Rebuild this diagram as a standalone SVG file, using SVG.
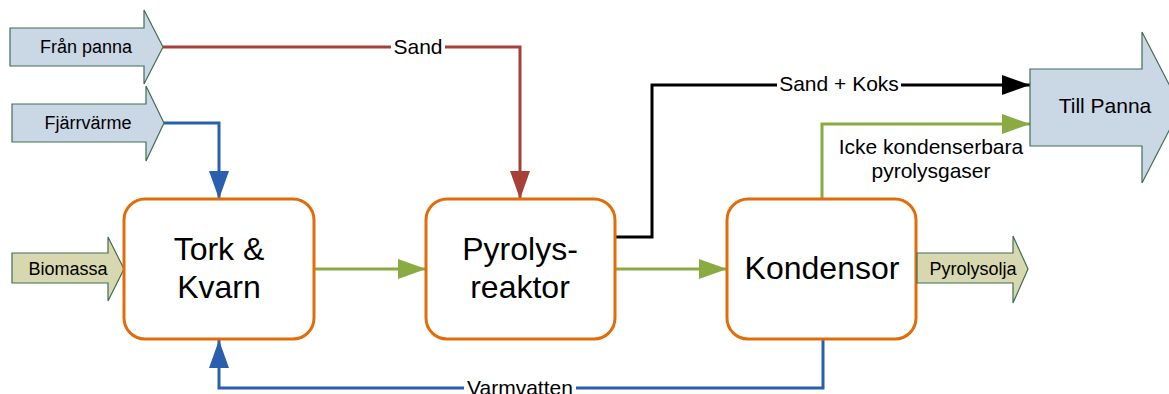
<svg xmlns="http://www.w3.org/2000/svg" width="1169" height="394" viewBox="0 0 1169 394">
<style>
.blk{fill:#CAD7E5;stroke:#3F6E52;stroke-width:1.2}
.olv{fill:#D7D8B0;stroke:#3F6E52;stroke-width:1.2}
.box{fill:#FFFFFF;stroke:#E36C0A;stroke-width:3}
.t{font-family:"Liberation Sans",Arial,sans-serif;fill:#000;text-anchor:middle}
.s{font-size:18px}
.m{font-size:21px}
.b{font-size:32px}
.ln{fill:none;stroke-width:3}
.bg{fill:#FFFFFF}
</style>
<defs>
<marker id="aG" markerUnits="userSpaceOnUse" markerWidth="28" markerHeight="20" refX="28" refY="10" orient="auto"><path d="M0,0 L28,10 L0,20 z" fill="#8AAA42"/></marker>
<marker id="aB" markerUnits="userSpaceOnUse" markerWidth="28" markerHeight="20" refX="28" refY="10" orient="auto"><path d="M0,0 L28,10 L0,20 z" fill="#2A5FAD"/></marker>
<marker id="aR" markerUnits="userSpaceOnUse" markerWidth="28" markerHeight="20" refX="28" refY="10" orient="auto"><path d="M0,0 L28,10 L0,20 z" fill="#A8403A"/></marker>
<marker id="aK" markerUnits="userSpaceOnUse" markerWidth="28" markerHeight="20" refX="28" refY="10" orient="auto"><path d="M0,0 L28,10 L0,20 z" fill="#000000"/></marker>
</defs>
<g id="connectors">
<polyline class="ln" stroke="#A8403A" points="163,47 520,47 520,199" marker-end="url(#aR)"/>
<polyline class="ln" stroke="#2A5FAD" points="164,123 219,123 219,199" marker-end="url(#aB)"/>
<line class="ln" stroke="#8AAA42" x1="314" y1="269" x2="426" y2="269" marker-end="url(#aG)"/>
<line class="ln" stroke="#8AAA42" x1="615" y1="269" x2="727" y2="269" marker-end="url(#aG)"/>
<polyline class="ln" stroke="#000000" points="615,237 652,237 652,85 1030,85" marker-end="url(#aK)"/>
<polyline class="ln" stroke="#8AAA42" points="822,199 822,124 1030,124" marker-end="url(#aG)"/>
<polyline class="ln" stroke="#2A5FAD" points="823,339 823,388 219,388 219,340" marker-end="url(#aB)"/>
<rect class="bg" x="391" y="36" width="54" height="22"/>
<text class="t m" x="418" y="54">Sand</text>
<rect class="bg" x="777" y="74" width="124" height="22"/>
<text class="t m" x="839" y="91">Sand + Koks</text>
<text class="t m" x="931" y="154">Icke kondenserbara</text>
<text class="t m" x="931" y="178">pyrolysgaser</text>
<rect class="bg" x="464" y="378" width="112" height="20"/>
<text class="t m" x="520" y="395">Varmvatten</text>
</g>
<g id="fran-panna">
<path class="blk" d="M10,28 H144 V10 L163,47 L144,84 V66 H10 z"/>
<text class="t s" x="86" y="53">Från panna</text>
</g>
<g id="fjarrvarme">
<path class="blk" d="M12,104 H146 V86 L164,123 L146,161 V142 H12 z"/>
<text class="t s" x="88" y="129">Fjärrvärme</text>
</g>
<g id="biomassa">
<path class="olv" d="M12,253 H108 V237 L124,269 L108,301 V283 H12 z"/>
<text class="t s" x="68" y="275">Biomassa</text>
</g>
<g id="tork">
<rect class="box" x="124" y="199" width="190" height="140" rx="21"/>
<text class="t b" x="219" y="260">Tork &amp;</text>
<text class="t b" x="219" y="298">Kvarn</text>
</g>
<g id="pyrolysreaktor">
<rect class="box" x="426" y="199" width="189" height="140" rx="21"/>
<text class="t b" x="520" y="260">Pyrolys-</text>
<text class="t b" x="520" y="298">reaktor</text>
</g>
<g id="kondensor">
<rect class="box" x="727" y="199" width="189" height="140" rx="21"/>
<text class="t b" x="822" y="279">Kondensor</text>
</g>
<g id="pyrolysolja">
<path class="olv" d="M917,253 H1013 V236 L1028,269 L1013,303 V283 H917 z"/>
<text class="t s" x="973" y="275">Pyrolysolja</text>
</g>
<g id="till-panna">
<path class="blk" d="M1030,69 H1142 V32 L1181,107.5 L1142,183 V146 H1030 z"/>
<text class="t m" x="1105" y="113">Till Panna</text>
</g>
</svg>
